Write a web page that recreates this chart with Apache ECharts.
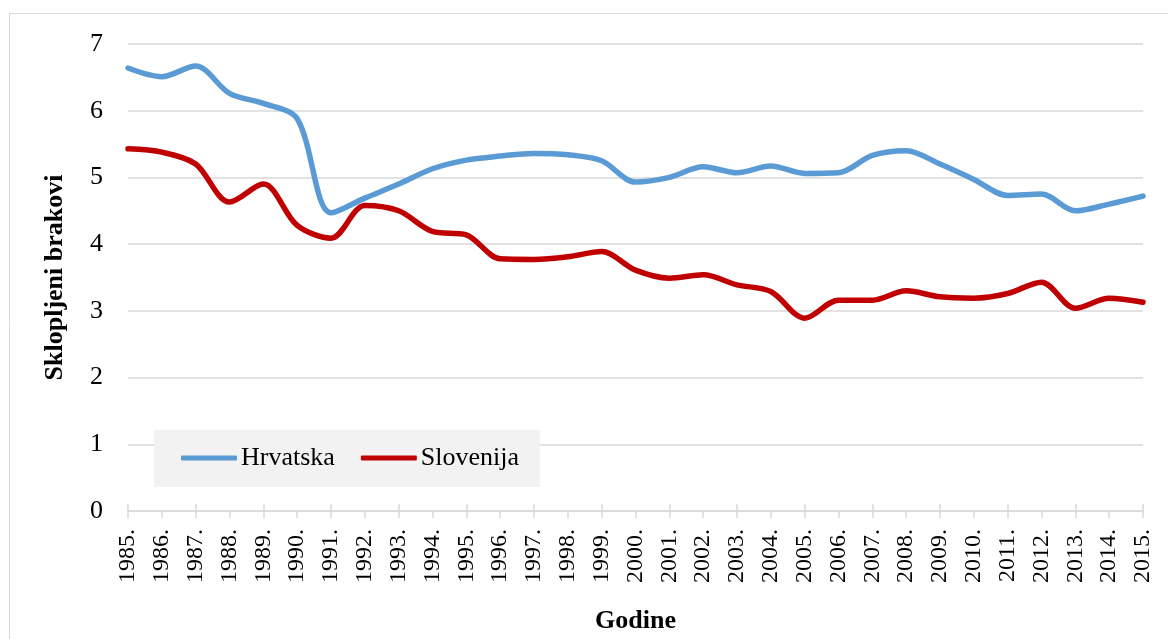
<!DOCTYPE html>
<html>
<head>
<meta charset="utf-8">
<script src="https://cdn.jsdelivr.net/npm/echarts@6/dist/echarts.min.js"></script>
<style>
  html, body { margin: 0; padding: 0; background: #fff; }
  #chart { width: 1168px; height: 639px; }
</style>
</head>
<body>
<div id="chart"></div>
<script>
// Sklopljeni brakovi na 1000 stanovnika, 1985.-2015.
const years = [
  "1985.", "1986.", "1987.", "1988.", "1989.", "1990.", "1991.", "1992.",
  "1993.", "1994.", "1995.", "1996.", "1997.", "1998.", "1999.", "2000.",
  "2001.", "2002.", "2003.", "2004.", "2005.", "2006.", "2007.", "2008.",
  "2009.", "2010.", "2011.", "2012.", "2013.", "2014.", "2015.",
];
const hrvatska = [
  6.64, 6.51, 6.67, 6.26, 6.11, 5.88, 4.47, 4.69, 4.9, 5.13, 5.26,
  5.32, 5.36, 5.34, 5.25, 4.93, 5.0, 5.16, 5.07, 5.17, 5.06,
  5.07, 5.33, 5.4, 5.2, 4.97, 4.73, 4.75, 4.5, 4.6, 4.72,
];
const slovenija = [
  5.43, 5.38, 5.2, 4.63, 4.9, 4.28, 4.09, 4.58, 4.5, 4.19, 4.14,
  3.78, 3.77, 3.81, 3.89, 3.61, 3.49, 3.54, 3.39, 3.29, 2.89,
  3.16, 3.16, 3.3, 3.21, 3.19, 3.26, 3.43, 3.04, 3.19, 3.13,
];
const yTicks = [0, 7, 1]; // min, max, interval

const font = "'Liberation Serif', 'Times New Roman', serif";
const gridColor = "#d9d9d9";

const chart = echarts.init(document.getElementById("chart"));

const option = {
  animation: false,
  textStyle: { fontFamily: font, color: "#000" },
  graphic: [
    {
      type: "rect",
      shape: { x: 9.5, y: 13.5, width: 1200, height: 700 },
      style: { fill: "none", stroke: gridColor, lineWidth: 1 },
      silent: true,
    },
  ],
  grid: { left: 128, right: 25, top: 44, bottom: 124, containLabel: false },
  legend: {
    left: 154,
    top: 430,
    backgroundColor: "#f2f2f2",
    padding: [15, 21, 16, 27],
    itemGap: 26,
    itemWidth: 56,
    itemHeight: 5,
    icon: "roundRect",
    textStyle: { fontFamily: font, fontSize: 26, color: "#000", padding: [0, 0, 0, -1] },
    data: ["Hrvatska", "Slovenija"],
  },
  xAxis: [
    {
      type: "category",
      data: years,
      boundaryGap: false,
      name: "Godine",
      nameLocation: "middle",
      nameGap: 97,
      nameTextStyle: { fontFamily: font, fontSize: 26, fontWeight: "bold", color: "#000" },
      axisLine: { lineStyle: { color: gridColor, width: 1.5 } },
      axisTick: { show: true, length: 7, lineStyle: { color: gridColor, width: 1.5 } },
      axisLabel: {
        rotate: 90,
        margin: 18,
        fontFamily: font,
        fontSize: 24,
        color: "#000",
        interval: 0,
      },
      splitLine: { show: false },
    },
    {
      type: "category",
      data: years,
      boundaryGap: false,
      position: "bottom",
      axisLine: { show: false },
      axisTick: { show: true, inside: true, length: 7, lineStyle: { color: gridColor, width: 1.5 } },
      axisLabel: { show: false },
      splitLine: { show: false },
    },
  ],
  yAxis: {
    type: "value",
    min: yTicks[0],
    max: yTicks[1],
    interval: yTicks[2],
    name: "Sklopljeni brakovi",
    nameLocation: "middle",
    nameGap: 60,
    nameTextStyle: { fontFamily: font, fontSize: 26, fontWeight: "bold", color: "#000" },
    axisLine: { show: false },
    axisTick: { show: false },
    axisLabel: { margin: 25, fontFamily: font, fontSize: 26, color: "#000" },
    splitLine: { lineStyle: { color: gridColor, width: 1.5 } },
  },
  series: [
    {
      name: "Hrvatska",
      type: "line",
      data: hrvatska,
      smooth: 0.32,
      symbol: "none",
      lineStyle: { color: "#5b9bd5", width: 5.5, cap: "round" },
      itemStyle: { color: "#5b9bd5" },
    },
    {
      name: "Slovenija",
      type: "line",
      data: slovenija,
      smooth: 0.32,
      symbol: "none",
      lineStyle: { color: "#c00000", width: 5.5, cap: "round" },
      itemStyle: { color: "#c00000" },
    },
  ],
};

chart.setOption(option);
</script>
</body>
</html>
